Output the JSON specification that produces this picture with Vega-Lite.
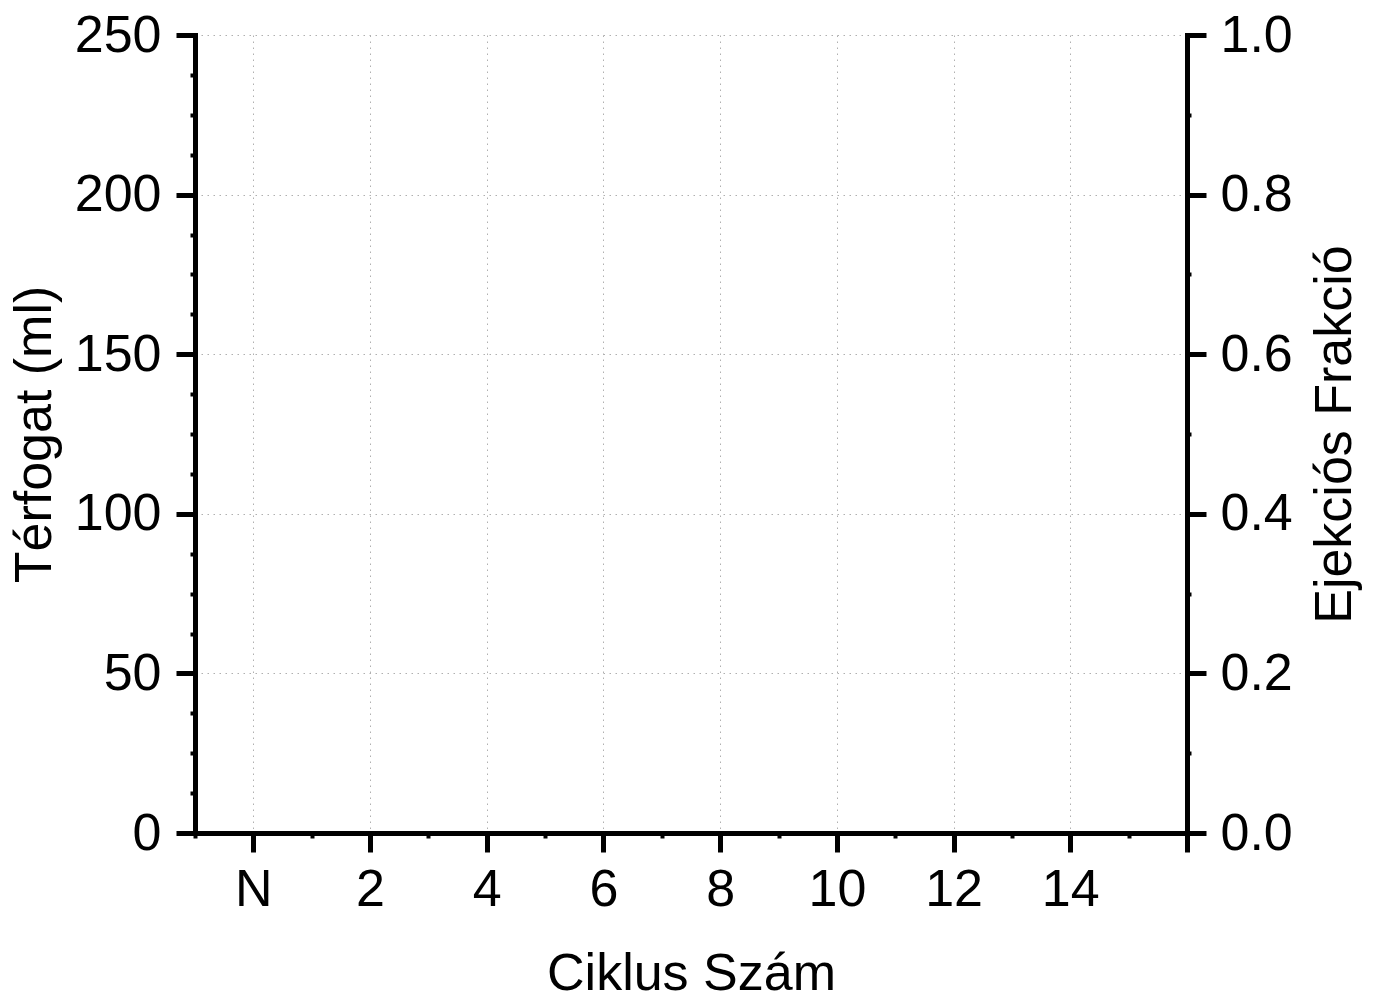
{
  "$schema": "https://vega.github.io/schema/vega-lite/v6.json",
  "autosize": "none",
  "padding": {"left": 195, "top": 35, "right": 192, "bottom": 165},
  "width": 992,
  "height": 798,
  "background": "white",
  "config": {
    "view": {"stroke": null},
    "axis": {
      "domainColor": "black",
      "tickColor": "black",
      "labelColor": "black",
      "titleColor": "black",
      "labelFont": "Liberation Sans",
      "titleFont": "Liberation Sans",
      "titleFontWeight": "normal",
      "labelFontSize": 52,
      "titleFontSize": 52,
      "domainWidth": 5,
      "domainCap": "square",
      "tickWidth": 5,
      "gridColor": "#b0b0b0",
      "gridWidth": 1,
      "gridDash": [1.5, 4.5],
      "labelOverlap": false,
      "labelBound": false,
      "labelFlush": false
    }
  },
  "data": {"values": []},
  "resolve": {
    "scale": {"y": "independent"},
    "axis": {"x": "independent", "y": "independent"}
  },
  "layer": [
    {
      "mark": "point",
      "encoding": {
        "x": {
          "field": "ciklus", "type": "quantitative",
          "scale": {"domain": [-1, 16], "nice": false, "zero": false},
          "axis": {
            "orient": "bottom", "title": "Ciklus Szám",
            "values": [0, 2, 4, 6, 8, 10, 12, 14, 16],
            "labelExpr": "datum.value == 0 ? 'N' : (datum.value == 16 ? '' : datum.label)",
            "tickSize": 19, "labelPadding": 12, "titlePadding": 33,
            "grid": true
          }
        },
        "y": {
          "field": "terfogat", "type": "quantitative",
          "scale": {"domain": [0, 250], "nice": false},
          "axis": {
            "orient": "left", "title": "Térfogat (ml)",
            "values": [0, 50, 100, 150, 200, 250],
            "tickSize": 19, "labelPadding": 15, "titlePadding": 13,
            "grid": true
          }
        }
      }
    },
    {
      "mark": "point",
      "encoding": {
        "x": {
          "field": "ciklus", "type": "quantitative",
          "scale": {"domain": [-1, 16], "nice": false, "zero": false},
          "axis": {
            "orient": "bottom", "title": null, "labels": false, "domain": false, "grid": false,
            "values": [-1, 1, 3, 5, 7, 9, 11, 13, 15],
            "tickSize": 5, "tickWidth": 4
          }
        },
        "y": {
          "field": "terfogat", "type": "quantitative",
          "scale": {"domain": [0, 250], "nice": false},
          "axis": {
            "orient": "left", "title": null, "labels": false, "domain": false, "grid": false,
            "values": [12.5, 25, 37.5, 62.5, 75, 87.5, 112.5, 125, 137.5, 162.5, 175, 187.5, 212.5, 225, 237.5],
            "tickSize": 5, "tickWidth": 4
          }
        }
      }
    },
    {
      "mark": "point",
      "encoding": {
        "x": {"field": "ciklus", "type": "quantitative", "scale": {"domain": [-1, 16], "nice": false, "zero": false}, "axis": null},
        "y": {
          "field": "ef", "type": "quantitative",
          "scale": {"domain": [0, 1], "nice": false},
          "axis": {
            "orient": "right", "title": "Ejekciós Frakció",
            "values": [0, 0.2, 0.4, 0.6, 0.8, 1],
            "format": ".1f",
            "tickSize": 19, "labelPadding": 14, "titlePadding": 17,
            "titleAngle": 270, "titleBaseline": "top",
            "grid": false
          }
        }
      }
    },
    {
      "mark": "point",
      "encoding": {
        "x": {"field": "ciklus", "type": "quantitative", "scale": {"domain": [-1, 16], "nice": false, "zero": false}, "axis": null},
        "y": {
          "field": "ef", "type": "quantitative",
          "scale": {"domain": [0, 1], "nice": false},
          "axis": {
            "orient": "right", "title": null, "labels": false, "domain": false, "grid": false,
            "values": [0.1, 0.3, 0.5, 0.7, 0.9],
            "tickSize": 4, "tickWidth": 4
          }
        }
      }
    }
  ]
}
